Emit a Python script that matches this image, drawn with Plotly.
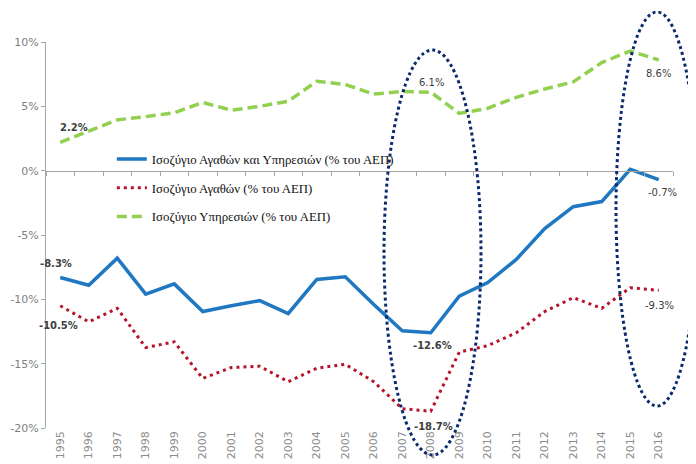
import plotly.graph_objects as go

years = [str(y) for y in range(1995, 2017)]
balance_total = [-8.3, -8.9, -6.8, -9.6, -8.8, -10.95, -10.5, -10.1, -11.1, -8.45, -8.25,
                 -10.4, -12.45, -12.6, -9.75, -8.7, -6.9, -4.5, -2.8, -2.4, 0.1, -0.7]
balance_goods = [-10.5, -11.75, -10.7, -13.75, -13.3, -16.15, -15.3, -15.2, -16.4, -15.35, -15.05,
                 -16.4, -18.5, -18.7, -14.1, -13.6, -12.6, -10.95, -9.87, -10.7, -9.1, -9.3]
balance_services = [2.2, 3.05, 3.95, 4.2, 4.5, 5.3, 4.7, 5.0, 5.4, 6.95, 6.7,
                    5.95, 6.15, 6.1, 4.45, 4.85, 5.7, 6.35, 6.9, 8.4, 9.3, 8.6]
names = ["Ισοζύγιο Αγαθών και Υπηρεσιών (% του ΑΕΠ)",
         "Ισοζύγιο Αγαθών (% του ΑΕΠ)",
         "Ισοζύγιο Υπηρεσιών (% του ΑΕΠ)"]
y_tick_vals = [10, 5, 0, -5, -10, -15, -20]
y_tick_text = ["10%", "5%", "0%", "-5%", "-10%", "-15%", "-20%"]

idx = list(range(len(years)))

fig = go.Figure()
fig.add_trace(go.Scatter(x=idx, y=balance_total, name=names[0], mode="lines",
                         legendgroup="a",
                         line=dict(color="#1f78c1", width=3.5)))
fig.add_trace(go.Scatter(x=idx, y=balance_goods, name=names[1], mode="lines",
                         legendgroup="b",
                         line=dict(color="#b5142b", width=3, dash="3px,4px")))
fig.add_trace(go.Scatter(x=idx, y=balance_services, name=names[2], mode="lines",
                         legendgroup="c",
                         line=dict(color="#92d050", width=3.5, dash="10px,5px")))
# helper trace for the axis drawn through zero
fig.add_trace(go.Scatter(x=[], y=[], xaxis="x2", yaxis="y", showlegend=False, hoverinfo="skip"))

# data labels: (series, index, xshift, yshift, bold)
series = {"t": balance_total, "g": balance_goods, "s": balance_services}
labels = [("s", 0, 14, 15, True), ("t", 0, -4, 14, True), ("g", 0, -2, -20, True),
          ("s", 13, 1, 10, False), ("t", 13, 2, -13, True), ("g", 13, 3, -15, True),
          ("s", 21, 0, -13, False), ("t", 21, 4, -13, False), ("g", 21, 1, -15, False)]
annotations = []
for key, i, xs, ys, bold in labels:
    v = series[key][i]
    txt = f"{v:.1f}%"
    if bold:
        txt = f"<b>{txt}</b>"
    annotations.append(dict(x=i, y=v, xref="x", yref="y", text=txt, showarrow=False,
                            xshift=xs, yshift=ys,
                            font=dict(family="DejaVu Sans", size=10, color="#404040")))

# page has an 8px body margin; plot area should land at x 46..673, y 42..428
OFF = 8
L, R, T, B = 46, 673, 42, 428
W, H = R - L, B - T
def px(x):
    return (x - L) / W
def py(y):
    return (B - y) / H

shapes = [
    dict(type="circle", xref="paper", yref="paper",
         x0=px(384), x1=px(481), y0=py(455), y1=py(50),
         line=dict(color="#0b2a6b", width=3, dash="dot")),
    dict(type="circle", xref="paper", yref="paper",
         x0=px(616), x1=px(698), y0=py(406), y1=py(12),
         line=dict(color="#0b2a6b", width=3, dash="dot")),
]

fig.update_layout(
    width=696, height=464,
    margin=dict(l=L - OFF, r=696 - R + OFF, t=T - OFF, b=464 - B + OFF, autoexpand=False),
    paper_bgcolor="white", plot_bgcolor="white",
    showlegend=True,
    legend=dict(x=0.105, y=0.735, xanchor="left", yanchor="top",
                bgcolor="rgba(0,0,0,0)", tracegroupgap=9,
                font=dict(family="Liberation Serif", size=12.8, color="#111")),
    xaxis=dict(range=[-0.5, 21.5], tickvals=idx, ticktext=years, tickangle=-90,
               showline=False, ticks="", showgrid=False, zeroline=False,
               tickfont=dict(family="DejaVu Sans", size=11, color="#8c8c8c")),
    xaxis2=dict(range=[-0.5, 21.5], overlaying="x", anchor="free",
                position=20 / 30, showline=True, linecolor="#a6a6a6", linewidth=1,
                ticks="outside", ticklen=4, tickcolor="#a6a6a6",
                tick0=-0.5, dtick=1, showticklabels=False, showgrid=False, zeroline=False),
    yaxis=dict(range=[-20, 10], tickvals=y_tick_vals, ticktext=y_tick_text,
               showline=True, linecolor="#a6a6a6", linewidth=1, ticks="outside",
               ticklen=4, tickcolor="#a6a6a6", showgrid=False, zeroline=False,
               tickfont=dict(family="DejaVu Sans", size=11, color="#808080")),
    annotations=annotations,
    shapes=shapes,
)

fig.write_html("out.html")
